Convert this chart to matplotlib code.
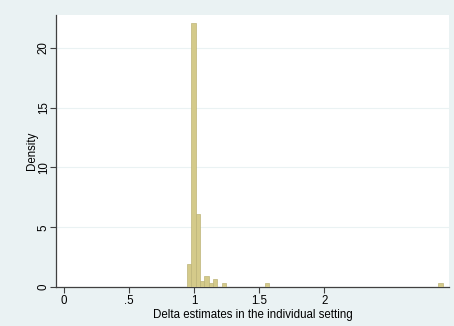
import numpy as np
import matplotlib
matplotlib.use("Agg")
import matplotlib.pyplot as plt

plt.rcParams['font.family'] = ['Liberation Sans', 'DejaVu Sans']

# histogram bins (left edge of first bin, bin width, density per bin)
bin_start = 0.946
bin_width = 0.0333
densities = [1.9, 22.1, 6.1, 0.5, 0.95, 0.3, 0.67, 0, 0.35, 0, 0, 0, 0, 0, 0, 0, 0, 0, 0.35]
densities += [0] * 39 + [0.35]

xticks = [0, 0.5, 1, 1.5, 2]
xticklabels = ["0", ".5", "1", "1.5", "2"]
yticks = [0, 5, 10, 15, 20]

bg = "#eaf2f3"
fig = plt.figure(figsize=(4.54, 3.26), dpi=100, facecolor=bg)
ax = fig.add_axes([0.1233, 0.1196, 0.8657, 0.8344])
ax.set_facecolor("white")

lefts = bin_start + bin_width * np.arange(len(densities))
ax.bar(lefts, densities, width=bin_width, align="edge",
       color="#d4ca8a", edgecolor="#bdb479", linewidth=0.5, zorder=3)

ax.set_xlim(-0.0615, 2.96)
ax.set_ylim(0, 22.76)
ax.set_xticks(xticks)
ax.set_xticklabels(xticklabels)
ax.set_yticks(yticks)
ax.set_yticklabels([str(v) for v in yticks], rotation=90, va="center")
ax.grid(axis="y", color=bg, linewidth=0.8, zorder=0)

for s in ["top", "right"]:
    ax.spines[s].set_visible(False)
for s in ["left", "bottom"]:
    ax.spines[s].set_color("#404040")
    ax.spines[s].set_linewidth(0.9)
ax.tick_params(axis="both", labelsize=8.3, length=4, width=0.8, color="#404040", pad=2)
ax.tick_params(axis="y", pad=0.5)

ax.set_xlabel("Delta estimates in the individual setting", fontsize=8.3, labelpad=1)
ax.set_ylabel("Density", fontsize=8.3, labelpad=0)

fig.savefig("out.png", dpi=100, facecolor=bg)
